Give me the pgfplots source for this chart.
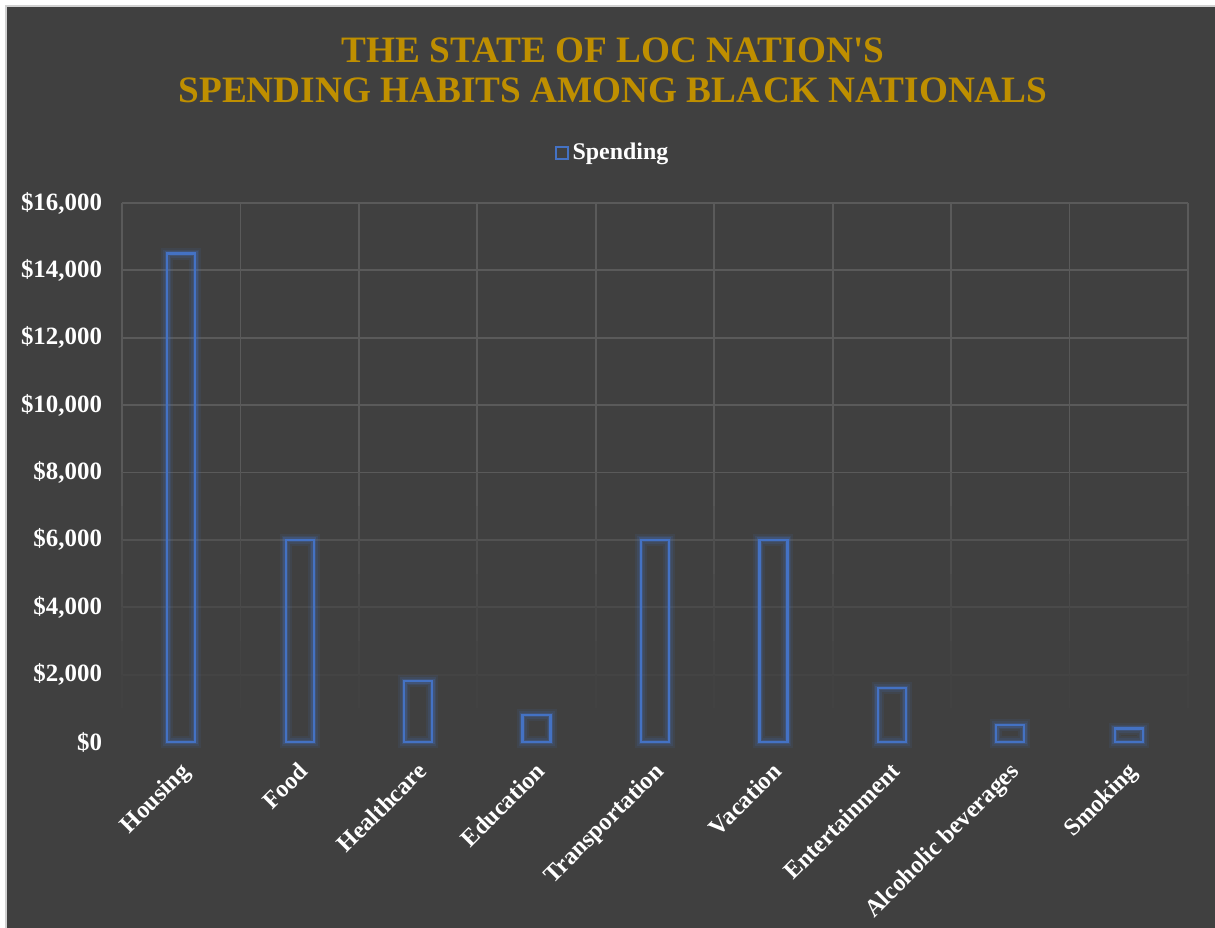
\documentclass[border=0pt]{standalone}
\usepackage{pgfplots}
\pgfplotsset{compat=1.18}
\usepackage{fontspec}
\setmainfont{Liberation Serif}
\definecolor{bg}{HTML}{404040}
\definecolor{gold}{HTML}{BF8F00}
\definecolor{barblue}{HTML}{4472C4}
\definecolor{gridc}{HTML}{5A5A5A}
\begin{document}
\begin{tikzpicture}
\useasboundingbox (0,0) rectangle (607.5bp,464bp);
\fill[white] (0,0) rectangle (607.5bp,464bp);
\fill[black!18] (2.5bp,0) rectangle (607.5bp,461.5bp);
\fill[bg] (3.5bp,0) rectangle (607.5bp,460.5bp);
\node[text=gold, font=\fontsize{18.7}{20}\selectfont\bfseries, align=center] at (306.5bp,429bp)
  {THE STATE OF LOC NATION\textquotesingle S\\SPENDING HABITS AMONG BLACK NATIONALS};
\begin{axis}[
  at={(61bp,93bp)}, anchor=south west, scale only axis,
  width=533bp, height=269.5bp,
  xmin=-0.5, xmax=8.5, ymin=0, ymax=16000,
  xtick={0,...,8},
  xticklabels={Housing,Food,Healthcare,Education,Transportation,Vacation,Entertainment,Alcoholic beverages,Smoking},
  ytick={0,2000,...,16000},
  scaled y ticks=false,
  yticklabel={\$\pgfmathprintnumber{\tick}},
  /pgf/number format/.cd, fixed, precision=0, 1000 sep={,}, assume math mode=true,
  /pgfplots/.cd,
  axis line style={draw=none},
  tick style={draw=none},
  major tick length=0pt,
  clip=false,
  yticklabel style={font=\fontsize{12.5}{14}\selectfont\bfseries, text=white, xshift=-6.5bp},
  xticklabel style={font=\fontsize{12.2}{14}\selectfont\bfseries, text=white, rotate=45, anchor=north east, xshift=-4bp, yshift=-2.4bp},
  legend style={at={(0.461,1.093)}, anchor=center, draw=none, fill=none,
    font=\fontsize{12}{14}\selectfont\bfseries, text=white, legend columns=-1,
    /tikz/every even column/.append style={column sep=2bp}},
  legend image code/.code={\draw[barblue, line width=1bp] (0bp,-3bp) rectangle (6bp,3bp);},
]
% grid lines, fading towards the bottom
\pgfplotsinvokeforeach{8000,10000,12000,14000,16000}{
  \draw[gridc, line width=0.9bp] (axis cs:-0.5,#1) -- (axis cs:8.5,#1);
}
\draw[color=gridc!70!bg, line width=0.9bp] (axis cs:-0.5,6000) -- (axis cs:8.5,6000);
\draw[color=gridc!40!bg, line width=0.9bp] (axis cs:-0.5,4000) -- (axis cs:8.5,4000);
\draw[color=gridc!15!bg, line width=0.9bp] (axis cs:-0.5,2000) -- (axis cs:8.5,2000);
\pgfplotsinvokeforeach{-0.5,0.5,1.5,2.5,3.5,4.5,5.5,6.5,7.5,8.5}{
  \draw[gridc, line width=0.9bp] (axis cs:#1,8000) -- (axis cs:#1,16000);
  \draw[gridc!85!bg, line width=0.9bp] (axis cs:#1,7000) -- (axis cs:#1,8000);
  \draw[gridc!70!bg, line width=0.9bp] (axis cs:#1,6000) -- (axis cs:#1,7000);
  \draw[gridc!55!bg, line width=0.9bp] (axis cs:#1,5000) -- (axis cs:#1,6000);
  \draw[gridc!40!bg, line width=0.9bp] (axis cs:#1,4000) -- (axis cs:#1,5000);
  \draw[gridc!27!bg, line width=0.9bp] (axis cs:#1,3000) -- (axis cs:#1,4000);
  \draw[gridc!15!bg, line width=0.9bp] (axis cs:#1,2000) -- (axis cs:#1,3000);
  \draw[gridc!6!bg, line width=0.9bp] (axis cs:#1,1000) -- (axis cs:#1,2000);
}
\addplot[ybar, bar width=14bp, bar shift=0pt, draw=barblue, draw opacity=0.10, line width=6bp, fill=none, forget plot]
  coordinates {(0,14500) (1,6000) (2,1800) (3,800) (4,6000) (5,6000) (6,1600) (7,500) (8,400)};
\addplot[ybar, bar width=14bp, bar shift=0pt, draw=barblue, draw opacity=0.15, line width=4bp, fill=none, forget plot]
  coordinates {(0,14500) (1,6000) (2,1800) (3,800) (4,6000) (5,6000) (6,1600) (7,500) (8,400)};
\addplot[ybar, bar width=14bp, bar shift=0pt, draw=barblue, draw opacity=0.25, line width=2.4bp, fill=none, forget plot]
  coordinates {(0,14500) (1,6000) (2,1800) (3,800) (4,6000) (5,6000) (6,1600) (7,500) (8,400)};
\addplot[ybar, bar width=14bp, bar shift=0pt, draw=barblue, line width=1.1bp, fill=none]
  coordinates {(0,14500) (1,6000) (2,1800) (3,800) (4,6000) (5,6000) (6,1600) (7,500) (8,400)};
\addlegendentry{Spending}
\end{axis}
\end{tikzpicture}
\end{document}
